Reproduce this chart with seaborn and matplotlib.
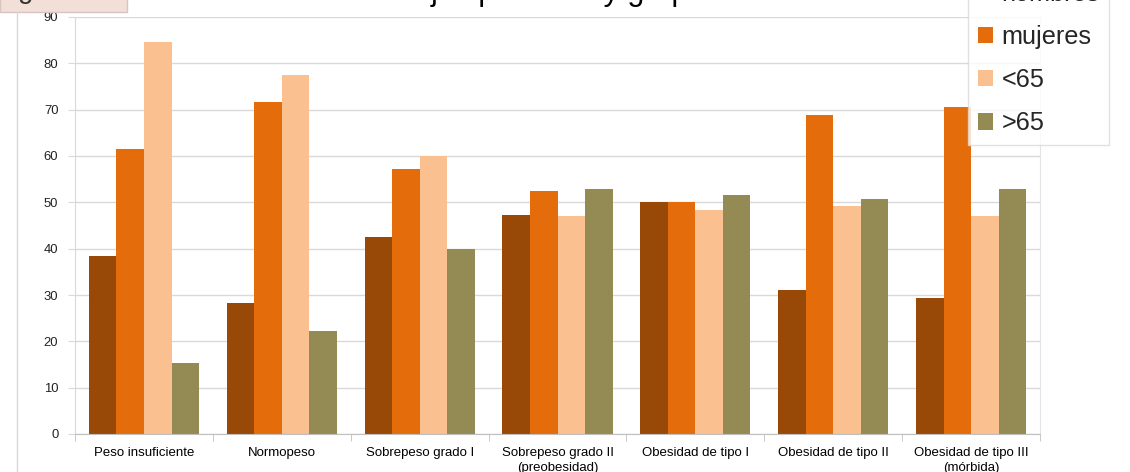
import matplotlib
matplotlib.use("Agg")
import matplotlib.pyplot as plt
import seaborn as sns
import pandas as pd
from matplotlib.patches import Rectangle
from matplotlib.lines import Line2D
from matplotlib.ticker import MultipleLocator, FixedLocator

categories = ["Peso insuficiente", "Normopeso", "Sobrepeso grado I",
              "Sobrepeso grado II\n(preobesidad)", "Obesidad de tipo I",
              "Obesidad de tipo II", "Obesidad de tipo III\n(mórbida)"]
series = ["hombres", "mujeres", "<65", ">65"]
hombres = [38.4, 28.3, 42.6, 47.3, 50.0, 31.1, 29.4]
mujeres = [61.5, 71.6, 57.3, 52.5, 50.0, 68.8, 70.5]
menor65 = [84.5, 77.5, 60.0, 47.0, 48.3, 49.2, 47.0]
mayor65 = [15.3, 22.3, 39.9, 52.9, 51.6, 50.8, 52.9]
colors = ["#984807", "#E46C0A", "#FAC090", "#948A54"]
title = "Porcentajes por sexo y grupo de edad"

rows = []
for name, vals in zip(series, [hombres, mujeres, menor65, mayor65]):
    for c, v in zip(categories, vals):
        rows.append({"cat": c, "serie": name, "val": v})
df = pd.DataFrame(rows)

sns.set_style("white")
plt.rcParams['font.family'] = ['Liberation Sans', 'DejaVu Sans']

W, H = 1130, 472
fig = plt.figure(figsize=(W / 100, H / 100), dpi=100)
ax = fig.add_axes([75 / W, 1 - 434 / H, (1040 - 75) / W, (434 - 17) / H])

sns.barplot(data=df, x="cat", y="val", hue="serie", palette=colors,
            order=categories, hue_order=series, width=0.8, ax=ax,
            saturation=1, errorbar=None, edgecolor="none", linewidth=0)

ax.set_ylim(0, 90)
ax.set_xlim(-0.5, 6.5)
ax.yaxis.set_major_locator(MultipleLocator(10))
ax.grid(axis="y", color="#D9D9D9", linewidth=1)
ax.set_axisbelow(True)
ax.set_xlabel("")
ax.set_ylabel("")

ax.spines["top"].set_visible(False)
ax.spines["right"].set_color("#E3E3E3")
ax.spines["left"].set_color("#D9D9D9")
ax.spines["bottom"].set_color("#BFBFBF")

ax.tick_params(axis="x", which="major", length=0, pad=9.5, labelsize=9.5, colors="#000000")
ax.xaxis.set_minor_locator(FixedLocator([i - 0.5 for i in range(8)]))
ax.tick_params(axis="x", which="minor", length=5, color="#BFBFBF", direction="out", bottom=True)
ax.tick_params(axis="y", length=5, color="#D9D9D9", pad=7, labelsize=9.4,
               labelcolor="#222222", left=True, direction="out")
for lab in ax.get_xticklabels():
    lab.set_linespacing(1.3)

leg = ax.legend(loc="lower left", bbox_to_anchor=(968 / W, 1 - 145 / H),
                bbox_transform=fig.transFigure, frameon=True, fancybox=False,
                prop={"family": ["Liberation Sans", "DejaVu Sans"], "size": 18.2},
                handlelength=0.62, handleheight=0.62, handletextpad=0.32,
                labelspacing=0.76, borderpad=0.38, borderaxespad=0)
leg.get_frame().set_edgecolor("#D9D9D9")
leg.get_frame().set_linewidth(1)
leg.set_title(None)

# outer chart border line on the left
fig.add_artist(Line2D([17 / W, 17 / W], [0, 1 - 12 / H], color="#D9D9D9", linewidth=1))

# partial slide label box top-left
fig.add_artist(Rectangle((0, 1 - 12 / H), 127 / W, 30 / H, facecolor="#F2DFD8",
                         edgecolor="#D9C5BF", linewidth=1, transform=fig.transFigure))
fig.text(18 / W, 1 + 2 / H, "g", fontsize=20, va="baseline", ha="left",
         family=["Liberation Sans", "DejaVu Sans"], color="#333333")

fig.text(566 / W, 1 + 0 / H, title, fontsize=22, va="baseline", ha="center",
         family=["Liberation Sans", "DejaVu Sans"], color="#000000")

fig.savefig("out.png", dpi=100)
